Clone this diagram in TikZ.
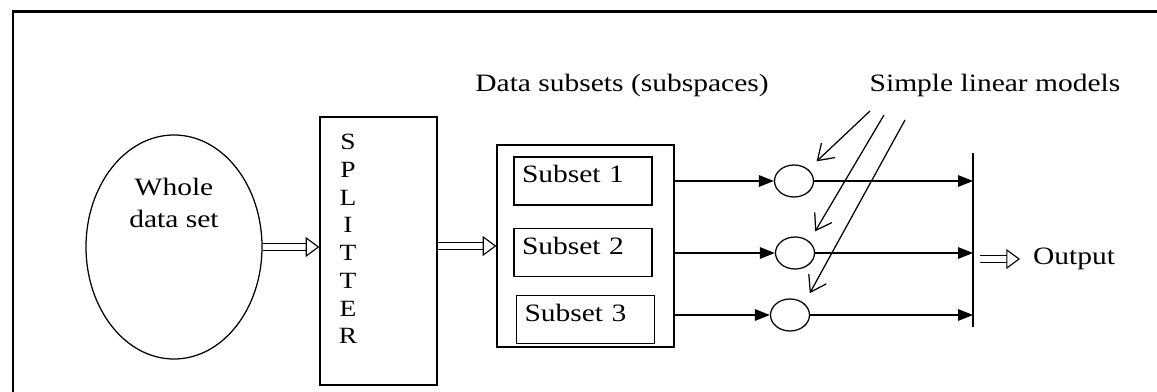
\documentclass[tikz,border=0pt]{standalone}
\usepackage{fontspec}
\setmainfont{Liberation Serif}[FakeStretch=1.18]
\usetikzlibrary{shapes.geometric, arrows.meta, positioning, calc}

\begin{document}
\begin{tikzpicture}[
    x=0.4pt, y=-0.4pt,
    font=\fontsize{10}{13}\selectfont,
    box/.style={rectangle, draw, line width=0.5pt, inner sep=0pt},
    subsetbox/.style={rectangle, draw, line width=0.5pt, inner xsep=3.2pt, inner ysep=2pt, text width=48.8pt, align=left, text height=8.4pt, text depth=6.8pt},
    model/.style={ellipse, draw, line width=0.5pt, minimum width=15.6pt, minimum height=12.8pt, inner sep=0pt},
    arrow/.style={-{Triangle[length=6pt, width=4.6pt]}, line width=0.6pt},
    hollow/.style={double, double distance=2.2pt, line width=0.45pt, -{Triangle[open, length=5.5pt, width=8pt]}},
    pointer/.style={-{Straight Barb[length=6pt, width=8pt]}, line width=0.5pt, shorten >=4.6pt}
]
\useasboundingbox (0,0) rectangle (1157,392);
% frame
\draw[line width=1.1pt] (13,392) -- (13,11.5) -- (1157,11.5);

\node[ellipse, draw, line width=0.5pt, minimum width=70.4pt, minimum height=89.6pt, inner sep=0pt] (whole) at (174,247) {};
\node[align=center] (wholetxt) at (174,203) {Whole\\data set};

\node[box, minimum width=46.8pt, minimum height=107.2pt] (splitter) at (378.5,251) {};
\node[align=center, font=\fontsize{9.3}{11.1}\selectfont] (splittxt) at (348,239) {S\\P\\L\\I\\T\\T\\E\\R};

\node[box, minimum width=70.8pt, minimum height=80.8pt] (subsets) at (585.5,246) {};
\node[subsetbox] (sub1) at (583,181) {Subset 1};
\node[subsetbox, below=8.8pt of sub1] (sub2) {Subset 2};
\node[subsetbox, below=7.2pt of sub2, xshift=1pt] (sub3) {Subset 3};
\node (subtitle) at (622,85) {Data subsets (subspaces)};

\node[model] (m1) at (794,181) {};
\node[model] (m2) at (795,253) {};
\node[model] (m3) at (790,315) {};
\node (models) at (995,85) {Simple linear models};

\coordinate (bartop) at (973,153);
\coordinate (barbot) at (973,327);
\draw[line width=0.6pt] (bartop) -- (barbot);
\node[anchor=west, inner xsep=5pt] (out) at (1020,259) {Output};

% hollow arrows
\draw[hollow] (whole.east) -- (whole.east -| splitter.west);
\draw[hollow] (splitter.east |- subsets.west) -- (subsets.west);
\draw[hollow] ([xshift=2.8pt]bartop |- out.west) -- (out.west);

% subsets -> models -> output
\foreach \i in {1,2,3}{
  \draw[arrow] (subsets.east |- m\i) -- (m\i);
  \draw[arrow] (m\i) -- (m\i -| bartop);
}

% pointers from the label
\coordinate (p1) at (870,111);
\coordinate (p2) at (884,115);
\coordinate (p3) at (905,120);
\draw[pointer] (p1) -- (m1.north east);
\draw[pointer] (p2) -- (m2.north east);
\draw[pointer] (p3) -- (m3.north east);

\end{tikzpicture}
\end{document}
